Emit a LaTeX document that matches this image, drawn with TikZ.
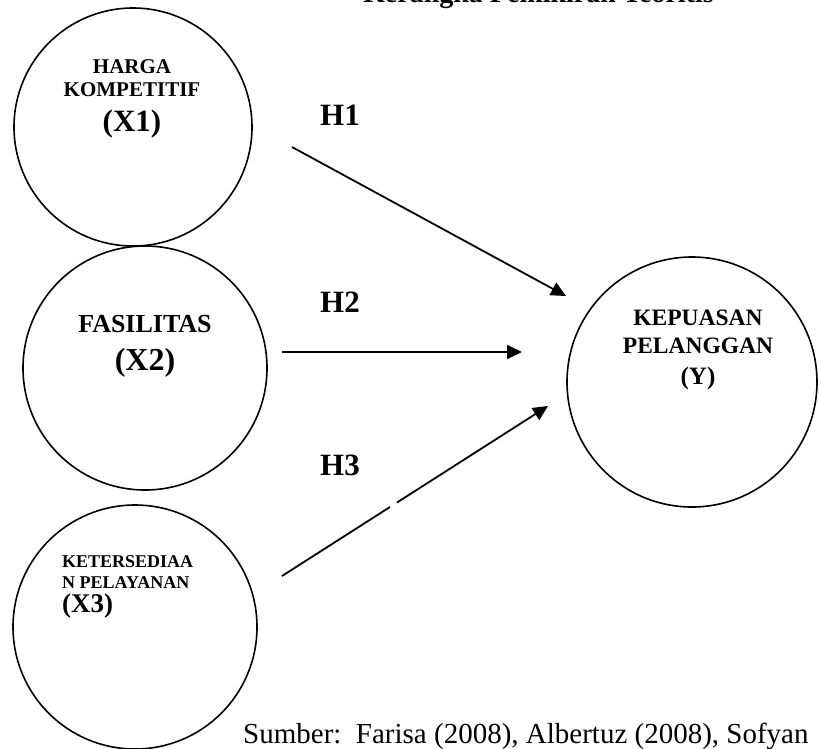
\documentclass[tikz,border=0pt]{standalone}
\usepackage{fontspec}
\setmainfont{Liberation Serif}
\usetikzlibrary{arrows.meta,calc}
\begin{document}
\begin{tikzpicture}[x=1pt,y=-1pt,
  circ/.style={circle,draw,line width=1.6pt,inner sep=0pt},
  conn/.style={line width=1.8pt},
  tip/.style={-{Triangle[length=15pt,width=14pt]}},
  txt/.style={inner sep=0pt,anchor=base,font=\bfseries\fontsize{#1}{#1}\selectfont},
  txtl/.style={inner sep=0pt,anchor=base west,font=\bfseries\fontsize{#1}{#1}\selectfont},
  hyp/.style={inner sep=0pt,anchor=base west,font=\bfseries\fontsize{31}{31}\selectfont}]
\useasboundingbox (0,0) rectangle (819,748);
% title (cut off at top, as in the reference)
\node[txtl=28] (title) at (363,2) {Kerangka Pemikiran Teoritis};
% circles
\node[circ,minimum size=238pt] (x1) at (133,127) {};
\node[circ,minimum size=244pt] (x2) at (145,368) {};
\node[circ,minimum size=244pt] (x3) at (135,627) {};
\node[circ,minimum size=250pt] (y)  at (692,382) {};
% circle texts
\node[txt=21] (x1a) at (132,73) {HARGA};
\node[txt=21] (x1b) at (132,96) {KOMPETITIF};
\node[txt=31] (x1c) at (132,131) {(X1)};
\node[txt=26] (x2a) at (145,332) {FASILITAS};
\node[txt=32] (x2b) at (145,370) {(X2)};
\node[txtl=18] (x3a) at (62,567) {KETERSEDIAA};
\node[txtl=18] (x3b) at (62,588) {N PELAYANAN};
\node[txtl=27] (x3c) at (62,612) {(X3)};
\node[txt=23.5] (ya) at (698,325) {KEPUASAN};
\node[txt=23.5] (yb) at (698,353) {PELANGGAN};
\node[txt=25] (yc) at (698,384) {(Y)};
% hypothesis labels
\node[hyp] (h1) at (320,125) {H1};
\node[hyp] (h2) at (320,312) {H2};
\node[hyp] (h3) at (320,475) {H3};
% connector end points
\coordinate (h1s) at (292,147);
\coordinate (h1e) at (566,296);
\coordinate (h2s) at (282,352);
\coordinate (h2e) at (522,352);
\coordinate (h3s) at (282,576);
\coordinate (h3e) at (548,406);
\coordinate (h3ga) at ($(h3s)!0.406!(h3e)$);
\coordinate (h3gb) at ($(h3s)!0.432!(h3e)$);
% connectors
\draw[conn,tip] (h1s) -- (h1e);
\draw[conn,tip] (h2s) -- (h2e);
\draw[conn] (h3s) -- (h3ga);
\draw[conn,tip] (h3gb) -- (h3e);
% source
\node[inner sep=0pt,anchor=base west,font=\fontsize{29}{29}\selectfont] (src) at (243,743) {Sumber:\ \ Farisa (2008), Albertuz (2008), Sofyan};
\end{tikzpicture}
\end{document}
